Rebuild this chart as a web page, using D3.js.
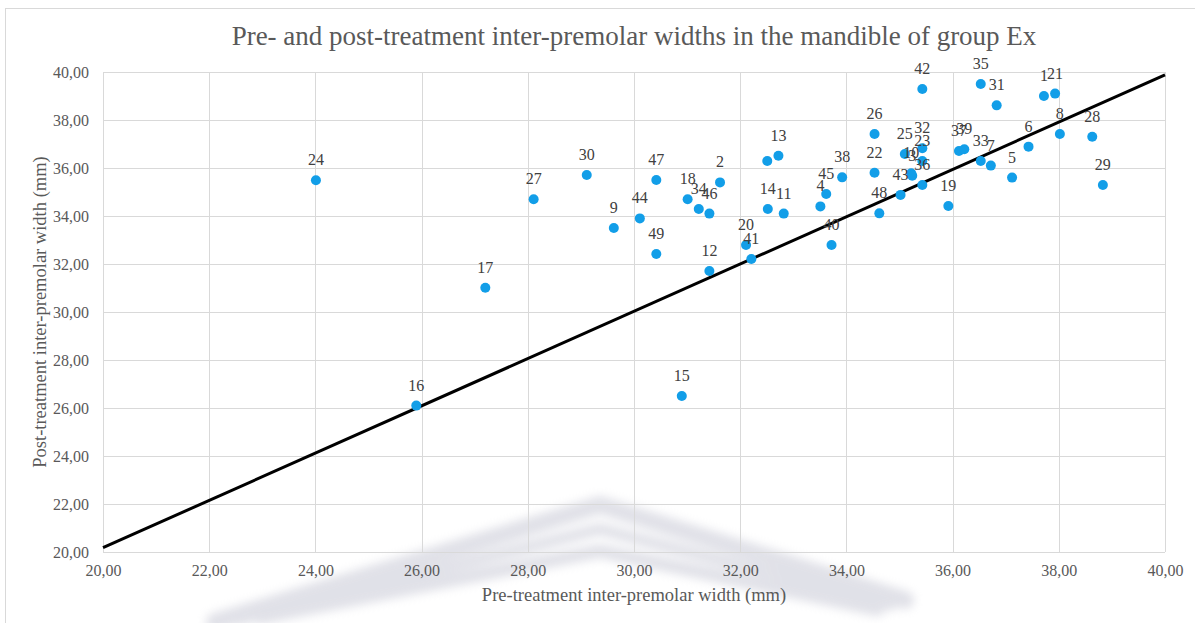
<!DOCTYPE html>
<html>
<head>
<meta charset="utf-8">
<script src="https://cdn.jsdelivr.net/npm/d3@7"></script>
<style>
  html, body { margin: 0; padding: 0; background: #ffffff; }
  svg { display: block; }
</style>
</head>
<body>
<svg id="chart" width="1195" height="623"></svg>
<script>
// Patient labels, pre-treatment width (x) and post-treatment width (y), mm
const labels = ["24","16","17","27","30","9","44","47","49","18","34","46","2","12","15",
  "20","41","14","11","","13","40","4","45","38","22","26","48","43","10","3","25","32",
  "23","36","42","19","37","39","33","35","31","7","5","6","1","21","8","28","29"];
const preWidth = [24.01,25.9,27.2,28.11,29.11,29.62,30.11,30.42,30.42,31.01,31.22,31.42,31.62,31.42,30.9,
  32.11,32.21,32.52,32.82,32.51,32.72,33.72,33.51,33.62,33.92,34.53,34.53,34.62,35.02,35.22,35.24,35.1,35.43,
  35.43,35.43,35.43,35.92,36.12,36.22,36.53,36.53,36.83,36.72,37.12,37.43,37.72,37.93,38.02,38.63,38.83];
const postWidth = [35.49,26.1,31.01,34.7,35.71,33.5,33.9,35.5,32.42,34.7,34.29,34.1,35.4,31.71,26.5,
  32.79,32.21,34.29,34.1,36.29,36.51,32.79,34.4,34.92,35.61,35.8,37.42,34.11,34.88,35.78,35.68,36.58,36.82,
  36.29,35.29,39.29,34.42,36.71,36.78,36.29,39.5,38.61,36.1,35.6,36.89,39.0,39.1,37.42,37.3,35.29];

// Axis ticks
const xTicks = [20,22,24,26,28,30,32,34,36,38,40];
const yTicks = [20,22,24,26,28,30,32,34,36,38,40];

// Linear trend line (slope, intercept)
const trendSlope = 0.985;
const trendIntercept = 0.48;

const fmt = v => d3.format(".2f")(v).replace(".", ",");

const svg = d3.select("#chart");
const W = 1195, H = 623;
const margin = {left: 103, right: 1165, top: 72, bottom: 552};

const x = d3.scaleLinear().domain([20, 40]).range([margin.left, margin.right]);
const y = d3.scaleLinear().domain([20, 40]).range([margin.bottom, margin.top]);

const serif = "'Liberation Serif', 'DejaVu Serif', serif";
const textGrey = "#595959";

svg.append("rect").attr("width", W).attr("height", H).attr("fill", "#fff");

// Outer chart frame
svg.append("rect")
  .attr("x", 5.5).attr("y", 8.5).attr("width", 1220).attr("height", 700)
  .attr("fill", "none").attr("stroke", "#d9d9d9").attr("stroke-width", 1);

// Faint watermark emblem at the bottom
const defs = svg.append("defs");
defs.append("filter").attr("id", "soft")
  .attr("x", "-20%").attr("y", "-50%").attr("width", "140%").attr("height", "200%")
  .append("feGaussianBlur").attr("stdDeviation", 5);
const wm = svg.append("g").attr("filter", "url(#soft)").attr("opacity", 0.4);
[[0, 18], [24, 12], [46, 14]].forEach(([off, w]) => {
  wm.append("path")
    .attr("d", `M${215 + off},${622 - off * 0.1} L${600},${505 + off} L${905 - off * 0.6},${600 + off * 0.2}`)
    .attr("fill", "none").attr("stroke", "#b4b5c6").attr("stroke-width", w)
    .attr("stroke-linecap", "round").attr("stroke-linejoin", "round");
});

// Gridlines
const grid = svg.append("g");
grid.selectAll("line.v").data(xTicks).join("line")
  .attr("x1", d => Math.round(x(d)) + 0.5).attr("x2", d => Math.round(x(d)) + 0.5)
  .attr("y1", margin.top).attr("y2", margin.bottom)
  .attr("stroke", "#d9d9d9").attr("stroke-width", 1);
grid.selectAll("line.h").data(yTicks).join("line")
  .attr("y1", d => Math.round(y(d)) + 0.5).attr("y2", d => Math.round(y(d)) + 0.5)
  .attr("x1", margin.left).attr("x2", margin.right)
  .attr("stroke", "#d9d9d9").attr("stroke-width", 1);

// Axes (labels only)
const xAxis = d3.axisBottom(x).tickValues(xTicks).tickFormat(fmt).tickSize(0).tickPadding(13);
const yAxis = d3.axisLeft(y).tickValues(yTicks).tickFormat(fmt).tickSize(0).tickPadding(14);
const gx = svg.append("g").attr("transform", `translate(0,${margin.bottom})`).call(xAxis);
const gy = svg.append("g").attr("transform", `translate(${margin.left},0)`).call(yAxis);
[gx, gy].forEach(g => {
  g.select(".domain").remove();
  g.selectAll("text").attr("font-family", serif).attr("font-size", 16).attr("fill", textGrey);
});

// Trend line
const tr = d3.line().x(d => x(d)).y(d => y(trendSlope * d + trendIntercept));
svg.append("path").datum([20, 40]).attr("d", tr)
  .attr("fill", "none").attr("stroke", "#000").attr("stroke-width", 3);

// Points
const pts = labels.map((l, i) => ({label: l, px: preWidth[i], py: postWidth[i]}));
svg.append("g").selectAll("circle").data(pts).join("circle")
  .attr("cx", d => x(d.px)).attr("cy", d => y(d.py)).attr("r", 5)
  .attr("fill", "#129ee8");

// Data labels above points
svg.append("g").selectAll("text").data(pts).join("text")
  .attr("x", d => x(d.px)).attr("y", d => y(d.py) - 15)
  .attr("text-anchor", "middle")
  .attr("font-family", serif).attr("font-size", 16).attr("fill", "#404040")
  .text(d => d.label);

// Title
svg.append("text").attr("x", 634).attr("y", 45).attr("text-anchor", "middle")
  .attr("font-family", serif).attr("font-size", 27).attr("fill", textGrey)
  .text("Pre- and post-treatment inter-premolar widths in the mandible of group Ex");

// Axis titles
svg.append("text").attr("x", 634).attr("y", 601).attr("text-anchor", "middle")
  .attr("font-family", serif).attr("font-size", 18.5).attr("fill", textGrey)
  .text("Pre-treatment inter-premolar width (mm)");
svg.append("text")
  .attr("transform", `translate(46,${(margin.top + margin.bottom) / 2}) rotate(-90)`)
  .attr("text-anchor", "middle")
  .attr("font-family", serif).attr("font-size", 18.5).attr("fill", textGrey)
  .text("Post-treatment inter-premolar width (mm)");
</script>
</body>
</html>
